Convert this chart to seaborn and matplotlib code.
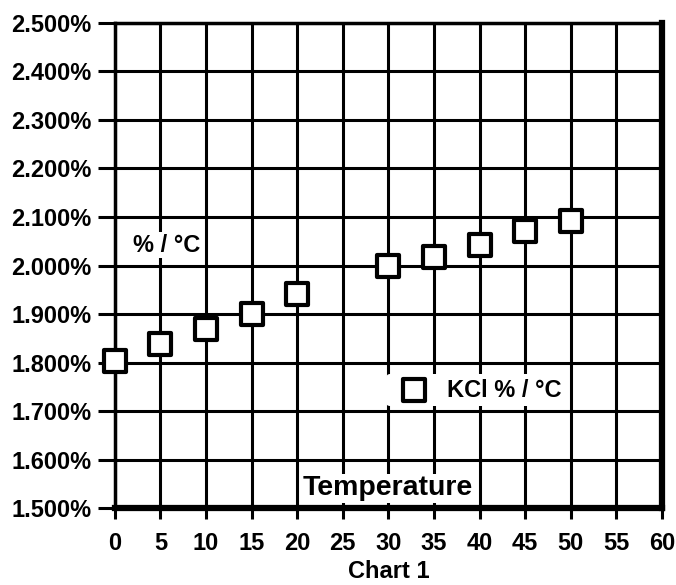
import numpy as np
import pandas as pd
import matplotlib
matplotlib.use("Agg")
import matplotlib.pyplot as plt
import seaborn as sns
from matplotlib.ticker import FuncFormatter

# Datos
temperature = [0, 5, 10, 15, 20, 30, 35, 40, 45, 50]
kcl_pct_per_c = [1.803, 1.839, 1.869, 1.900, 1.941, 1.998, 2.017, 2.042, 2.072, 2.092]
x_ticks = list(range(0, 61, 5))
y_ticks = [1.5, 1.6, 1.7, 1.8, 1.9, 2.0, 2.1, 2.2, 2.3, 2.4, 2.5]

df = pd.DataFrame({"Temperature": temperature, "KCl": kcl_pct_per_c})

sns.set_style("white")
plt.rcParams["font.family"] = ["Liberation Sans", "DejaVu Sans"]
plt.rcParams["font.weight"] = "bold"
plt.rcParams["text.color"] = "black"
plt.rcParams["axes.labelcolor"] = "black"
plt.rcParams["xtick.color"] = "black"
plt.rcParams["ytick.color"] = "black"

fig = plt.figure(figsize=(6.76, 5.85), dpi=100)
ax = fig.add_axes([0.170, 0.1316, 0.809, 0.8291])

ax.set_xlim(0, 60)
ax.set_ylim(1.5, 2.5)
ax.set_xticks(x_ticks)
ax.set_yticks(y_ticks)
ax.yaxis.set_major_formatter(FuncFormatter(lambda v, p: f"{v:.3f}%"))

# Cuadrícula negra gruesa
ax.grid(True, color="black", linewidth=2.2)
ax.set_axisbelow(True)

sns.scatterplot(data=df, x="Temperature", y="KCl", ax=ax, marker="s", s=256,
                facecolor="white", edgecolor="black", linewidth=3,
                label="KCl % / °C", clip_on=False, zorder=5)

for side in ["bottom", "right"]:
    ax.spines[side].set_linewidth(4.5)
    ax.spines[side].set_color("black")
for side in ["left", "top"]:
    ax.spines[side].set_linewidth(2.5)
    ax.spines[side].set_color("black")

ax.tick_params(axis="both", colors="black", labelcolor="black", width=2.2, labelsize=17)
ax.tick_params(axis="x", length=8, pad=9, bottom=True)
ax.tick_params(axis="y", length=12, pad=5, left=True)
for lbl in ax.get_xticklabels() + ax.get_yticklabels():
    lbl.set_fontweight("bold")
    lbl.set_color("black")

ax.set_xlabel("Chart 1", fontsize=17, fontweight="bold", labelpad=4, color="black")
ax.set_ylabel("")

# Etiquetas internas con fondo blanco
ax.text(29.9, 1.541, "Temperature", fontsize=20.5, fontweight="bold", color="black",
        ha="center", va="center", zorder=4,
        bbox=dict(facecolor="white", edgecolor="none", pad=1))
ax.text(2.0, 2.042, "% / °C", fontsize=17, fontweight="bold", color="black",
        ha="left", va="center", zorder=4,
        bbox=dict(facecolor="white", edgecolor="none", pad=1))

leg = ax.legend(loc="center", bbox_to_anchor=(0.660, 0.243), frameon=True,
                fontsize=17, handletextpad=0.4, borderpad=0.2,
                markerscale=1.0)
leg.get_frame().set_facecolor("white")
leg.get_frame().set_edgecolor("none")
leg.get_frame().set_alpha(1)
for t in leg.get_texts():
    t.set_fontweight("bold")
    t.set_color("black")

plt.savefig("out.png", dpi=100)
